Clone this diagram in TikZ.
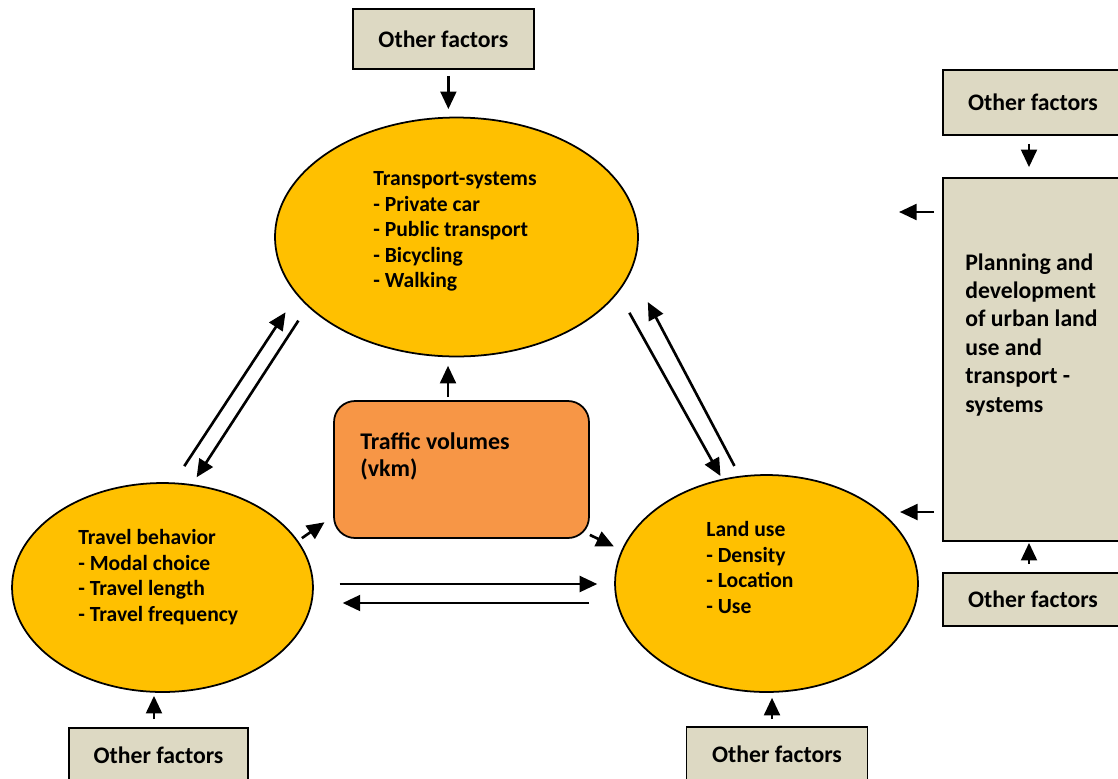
\documentclass[tikz,border=0pt]{standalone}
\usepackage{fontspec}
\setmainfont{Carlito}
\usetikzlibrary{shapes.geometric,arrows.meta}
\definecolor{ellipsegold}{HTML}{FFC000}
\definecolor{boxbeige}{HTML}{DDD9C3}
\definecolor{trafficorange}{HTML}{F79646}
\newcommand{\boxfont}{\fontsize{13.5}{16}\selectfont\bfseries}
\newcommand{\ellfont}{\fontsize{12.3}{14.6}\selectfont\bfseries}
\newcommand{\planfont}{\fontsize{13.5}{16.2}\selectfont\bfseries}
\newcommand{\volfont}{\fontsize{13.6}{15.4}\selectfont\bfseries}

\begin{document}
\begin{tikzpicture}[x=0.02cm, y=-0.02cm, >={Triangle[length=10pt,width=9pt]},
factorbox/.style={draw, fill=boxbeige, line width=1pt, inner sep=0pt, font=\boxfont, minimum width=3.6cm},
bubble/.style={ellipse, draw, fill=ellipsegold, line width=1pt, inner sep=0pt},
listtext/.style={inner sep=0pt, anchor=north west, align=left, font=\ellfont},
arr/.style={->, line width=1.5pt}]

\useasboundingbox (0,0) rectangle (1118,778);

\node[factorbox, minimum width=3.62cm, minimum height=1.2cm] (otherTop) at (443.4,39) {Other factors};
\node[factorbox, minimum height=1.3cm] (otherRightTop) at (1033,102.5) {Other factors};
\node[factorbox, minimum height=1.06cm] (otherRightBot) at (1033,599.5) {Other factors};
\node[factorbox, minimum width=3.58cm, minimum height=1.08cm] (otherLeftBot) at (158.5,755) {Other factors};
\node[factorbox, minimum width=3.62cm, minimum height=1.08cm] (otherMidBot) at (777,754) {Other factors};
\node[factorbox, minimum height=7.26cm] (plan) at (1033,359.5) {};
\node[inner sep=0pt, anchor=north west, align=left, font=\planfont] (planText) at (965,253)
  {Planning and\\development\\of urban land\\use and\\transport -\\systems};

\node[bubble, minimum width=7.26cm, minimum height=4.78cm] (transport) at (456.5,237) {};
\node[bubble, minimum width=6.02cm, minimum height=4.18cm] (travel) at (162.5,587.5) {};
\node[bubble, minimum width=6.06cm, minimum height=4.34cm] (land) at (766.5,583.5) {};
\node[draw, fill=trafficorange, line width=1pt, rounded corners=0.42cm, minimum width=5.1cm, minimum height=2.74cm] (traffic) at (461.5,469.5) {};

\node[listtext] (transportText) at (373,171) {Transport-systems\\- Private car\\- Public transport\\- Bicycling\\- Walking};
\node[listtext] (travelText) at (78,529) {Travel behavior\\- Modal choice\\- Travel length\\- Travel frequency};
\node[listtext] (landText) at (706,521) {Land use\\- Density\\- Location\\- Use};
\node[listtext, font=\volfont] (trafficText) at (360,432) {Traffic volumes\\(vkm)};

\coordinate (planOutA) at (899,212);
\coordinate (planOutB) at (900,512);

\draw[arr, shorten <=3.4pt, shorten >=4.3pt] ([xshift=0.1cm]otherTop.south) -- ([xshift=0.1cm]otherTop.south |- transport.north);
\draw[arr, shorten <=1.7pt, shorten >=4.8pt] ([xshift=-0.27cm]traffic.north) -- ([xshift=-0.27cm]traffic.north |- transport.south);
\draw[arr, shorten <=11.1pt, shorten >=11.7pt] (travel.84.2) -- (transport.200.4);
\draw[arr, shorten <=9.6pt, shorten >=4.7pt] (transport.205.9) -- (travel.74.3);
\draw[arr, shorten <=13.1pt, shorten >=1.9pt] (transport.341.25) -- (land.113.4);
\draw[arr, shorten <=6.4pt, shorten >=20pt] (land.104.9) -- (transport.349.1);
\draw[arr, shorten <=2.6pt, shorten >=6pt] (travel.19.8) -- (traffic.200.3);
\draw[arr, shorten >=4.8pt] (traffic.333) -- (land.167.8);
\draw[arr, shorten <=14.7pt, shorten >=9.6pt] ([yshift=0.07cm]travel.east) -- ([yshift=0.07cm]travel.east -| land.west);
\draw[arr, shorten <=14.2pt, shorten >=16.4pt] ([yshift=-0.39cm]land.west) -- ([yshift=-0.39cm]land.west -| travel.east);
\draw[arr, shorten <=4.5pt, shorten >=5.7pt] ([xshift=-0.08cm]otherRightTop.south) -- ([xshift=-0.08cm]otherRightTop.south |- plan.north);
\draw[arr, shorten <=4.5pt, shorten >=0.6pt] ([xshift=-0.08cm]otherRightBot.north) -- ([xshift=-0.08cm]otherRightBot.north |- plan.south);
\draw[arr, shorten <=4.5pt, shorten >=1.7pt] ([xshift=-0.09cm]otherLeftBot.north) -- ([xshift=-0.09cm]otherLeftBot.north |- travel.south);
\draw[arr, shorten <=4pt, shorten >=2.8pt] ([xshift=-0.1cm]otherMidBot.north) -- ([xshift=-0.1cm]otherMidBot.north |- land.south);
\draw[arr, shorten <=4.5pt] (plan.west |- planOutA) -- (planOutA);
\draw[arr, shorten <=4.5pt] (plan.west |- planOutB) -- (planOutB);
\end{tikzpicture}
\end{document}
